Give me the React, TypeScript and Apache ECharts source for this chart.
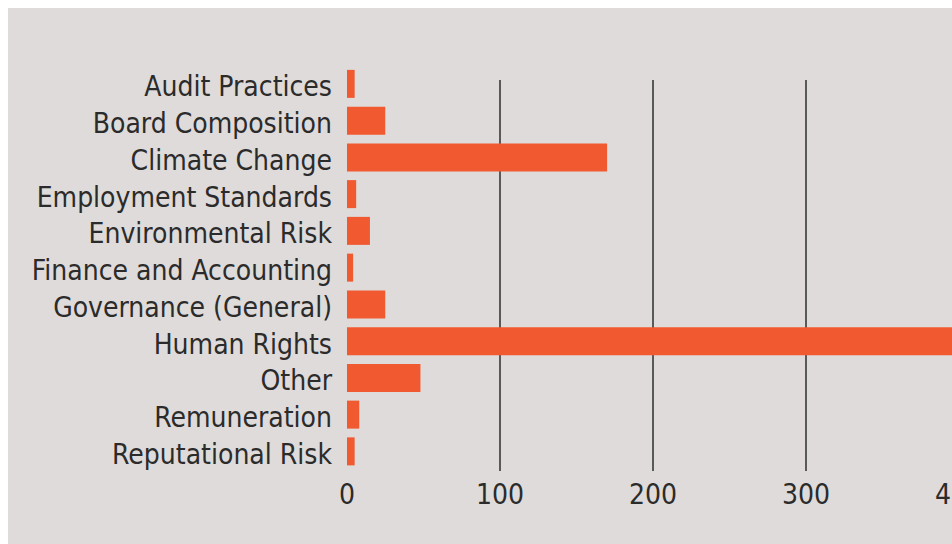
import React, { useEffect, useRef } from "react";
import * as echarts from "echarts";

const categories = [
  "Audit Practices",
  "Board Composition",
  "Climate Change",
  "Employment Standards",
  "Environmental Risk",
  "Finance and Accounting",
  "Governance (General)",
  "Human Rights",
  "Other",
  "Remuneration",
  "Reputational Risk",
];
const values = [5, 25, 170, 6, 15, 4, 25, 430, 48, 8, 5];
const xTicks = [0, 100, 200, 300, 400];

const FONT = '"DejaVu Sans Condensed", "Liberation Sans Narrow", Roboto, sans-serif';

export default function App() {
  const ref = useRef<HTMLDivElement>(null);
  useEffect(() => {
    if (!ref.current) return;
    const chart = echarts.init(ref.current, undefined, { renderer: "svg" });
    chart.setOption({
      animation: false,
      backgroundColor: "#dfdbda",
      grid: [
        { left: 339, right: -7, top: 57.5, bottom: 74.25, containLabel: false, outerBoundsMode: "none" },
        { left: 339, right: -7, top: 72, bottom: 73, containLabel: false, outerBoundsMode: "none" },
      ],
      xAxis: [
        {
          type: "value",
          gridIndex: 0,
          min: xTicks[0],
          max: xTicks[xTicks.length - 1],
          interval: 100,
          show: false,
        },
        {
          type: "value",
          gridIndex: 1,
          min: xTicks[0],
          max: xTicks[xTicks.length - 1],
          interval: 100,
          axisLine: { show: false },
          axisTick: { show: false },
          splitLine: {
            show: true,
            showMinLine: false,
            lineStyle: { color: "#2e2e2e", width: 1.5 },
          },
          axisLabel: {
            color: "#2b2b2b",
            fontFamily: FONT,
            fontSize: 28,
            margin: 9,
            showMinLabel: true,
            showMaxLabel: true,
          },
        },
      ],
      yAxis: [
        {
          type: "category",
          gridIndex: 0,
          data: categories,
          inverse: true,
          axisLine: { show: false },
          axisTick: { show: false },
          splitLine: { show: false },
          axisLabel: {
            color: "#2b2b2b",
            fontFamily: FONT,
            fontSize: 28,
            margin: 15,
            interval: 0,
            formatter: (v: string) => "{a|" + v + "}",
            rich: {
              a: {
                color: "#2b2b2b",
                fontFamily: FONT,
                fontSize: 28,
                padding: [6, 0, 0, 0],
              },
            },
          },
        },
        {
          type: "category",
          gridIndex: 1,
          data: categories,
          show: false,
        },
      ],
      series: [
        {
          type: "bar",
          xAxisIndex: 0,
          yAxisIndex: 0,
          data: values,
          barWidth: 28,
          itemStyle: { color: "#f15a31" },
          z: 3,
        },
      ],
    });
    return () => chart.dispose();
  }, []);
  return (
    <div
      ref={ref}
      style={{ position: "fixed", left: 8, top: 8, width: 944, height: 536 }}
    />
  );
}
